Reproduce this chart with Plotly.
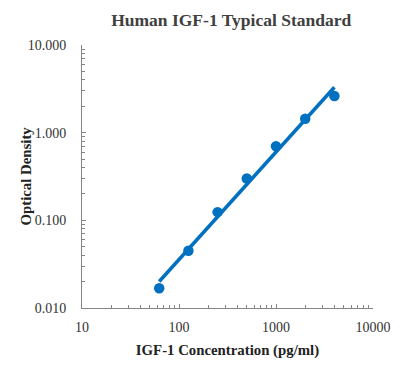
import numpy as np
import plotly.graph_objects as go

concentration = [62.5, 125, 250, 500, 1000, 2000, 4000]
optical_density = [0.0168, 0.045, 0.124, 0.30, 0.70, 1.44, 2.62]

y_tick_vals = [0.01, 0.1, 1, 10]
y_tick_text = ["0.010", "0.100", "1.000", "10.000"]
x_tick_vals = [10, 100, 1000, 10000]
x_tick_text = ["10", "100", "1000", "10000"]

# power trendline (linear fit in log-log space)
lx = np.log10(concentration)
ly = np.log10(optical_density)
slope, intercept = np.polyfit(lx, ly, 1)
fit_x = [concentration[0], concentration[-1]]
fit_y = [10 ** (intercept + slope * np.log10(v)) for v in fit_x]

blue = "#0070C0"
fig = go.Figure()
fig.add_trace(go.Scatter(x=fit_x, y=fit_y, mode="lines",
                         line=dict(color=blue, width=3.5), showlegend=False))
fig.add_trace(go.Scatter(x=concentration, y=optical_density, mode="markers",
                         marker=dict(color=blue, size=10.5), showlegend=False))

font = "Liberation Serif, Times New Roman, serif"
axis_common = dict(
    showgrid=False, zeroline=False, showline=True, linecolor="#868686", linewidth=1,
    ticks="inside", ticklen=4, tickcolor="#868686", automargin=False,
    minor=dict(ticks="inside", ticklen=3, tickcolor="#868686", dtick="D1", showgrid=False),
    tickfont=dict(family=font, size=14, color="#333333"),
)
fig.update_xaxes(type="log", range=[1, 4], tickvals=x_tick_vals, ticktext=x_tick_text,
                 title=dict(text="<b>IGF-1 Concentration (pg/ml)</b>",
                            font=dict(family=font, size=14.8, color="#222222"), standoff=10),
                 ticklabelstandoff=6, **axis_common)
fig.update_yaxes(type="log", range=[-2, 1], tickvals=y_tick_vals, ticktext=y_tick_text,
                 ticklabelstandoff=12, **axis_common)
fig.add_annotation(text="<b>Optical Density</b>", textangle=-90, xref="paper", yref="paper",
                   x=0, y=0.5, xanchor="center", yanchor="middle", xshift=-57, showarrow=False,
                   font=dict(family=font, size=14.8, color="#222222"))
fig.update_layout(
    width=395, height=377,
    margin=dict(l=74, r=30, t=37, b=77),
    paper_bgcolor="white", plot_bgcolor="white",
    title=dict(text="<b>Human IGF-1 Typical Standard</b>", x=0.565, xanchor="center",
               y=0.968, yanchor="middle",
               font=dict(family=font, size=17.5, color="#404040")),
)
fig.write_html("out.html")
